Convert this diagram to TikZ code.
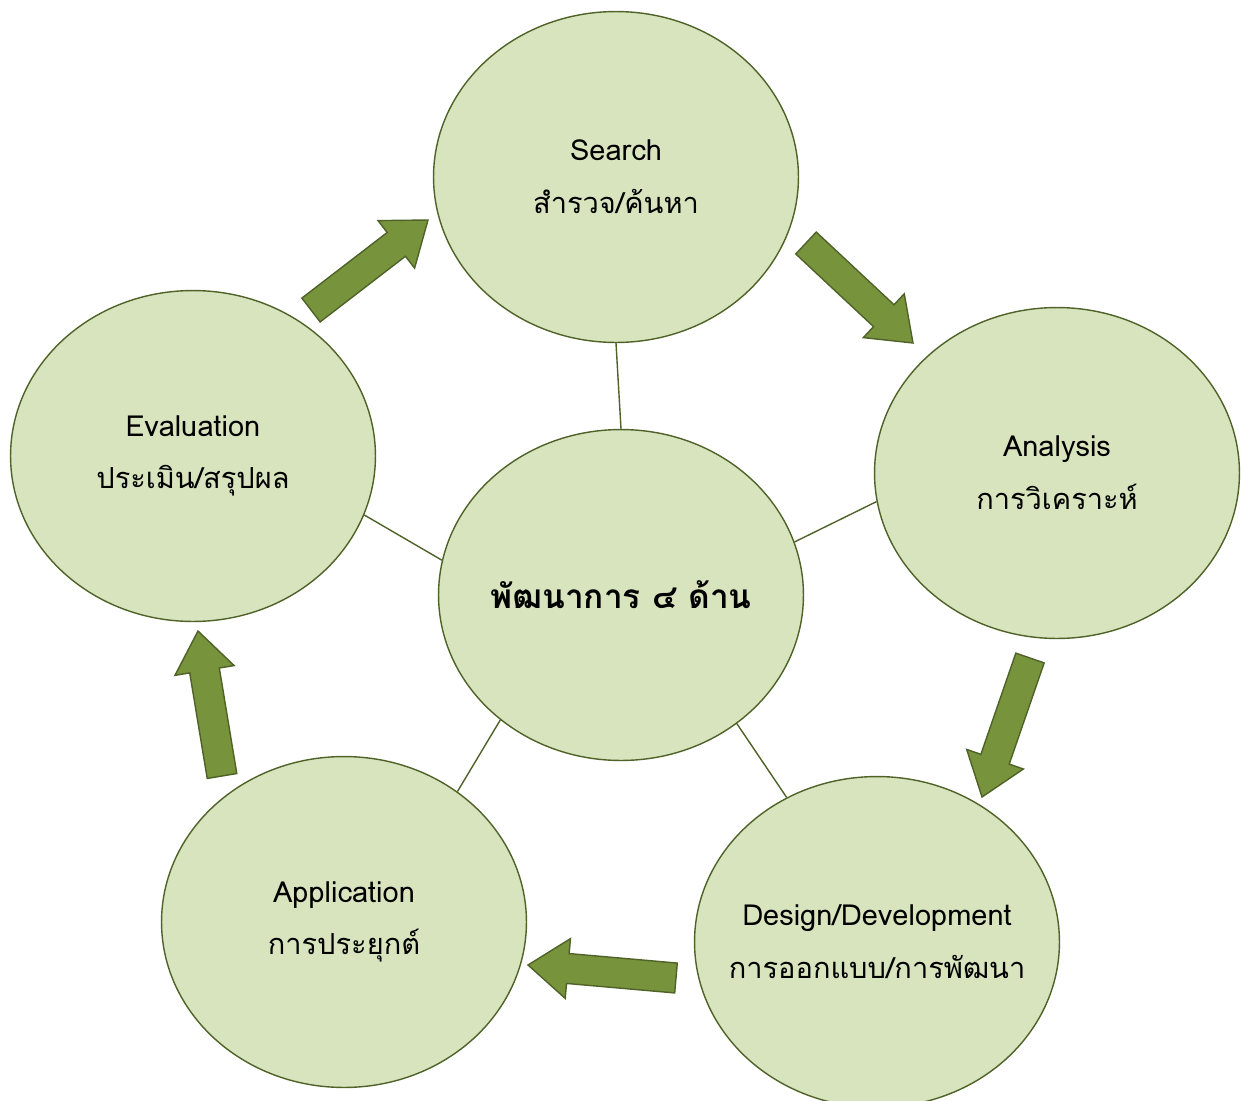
\documentclass[tikz,border=0pt]{standalone}
\usepackage{fontspec}
\newfontfamily\thaifont[Script=Thai]{Loma}
\usetikzlibrary{shapes.geometric,calc}
\definecolor{leaf}{HTML}{D7E4BD}
\definecolor{bark}{HTML}{4F6228}
\definecolor{moss}{HTML}{77933C}
\tikzstyle{phase} = [
  draw=bark,
  fill=leaf,
  ellipse,
  line width=0.8pt,
  minimum width=7.3cm,
  minimum height=6.62cm,
  inner sep=0pt,
]
\tikzstyle{caption} = [
  align=center,
  inner sep=0pt,
  font=\thaifont\fontsize{16.5}{30}\selectfont,
]
\tikzstyle{hubcaption} = [
  caption,
  font=\thaifont\bfseries\fontsize{19}{24}\selectfont,
]
\tikzstyle{spoke} = [
  draw=bark,
  line width=0.8pt,
]
\tikzstyle{bigarrow} = [
  draw=bark,
  fill=moss,
  line width=0.8pt,
  line join=miter,
]
% block arrow from tail #1 to tip #2
\newcommand{\blockarrow}[2]{%
  \path ($(#2)!0.8cm!(#1)$) coordinate (neck);
  \draw[bigarrow] ($(#1)!0.3cm!90:(#2)$) -- ($(neck)!0.3cm!-90:(#1)$)
    -- ($(neck)!0.6cm!-90:(#1)$) -- (#2) -- ($(neck)!0.6cm!90:(#1)$)
    -- ($(neck)!0.3cm!90:(#1)$) -- ($(#1)!0.3cm!-90:(#2)$) -- cycle;}

\begin{document}
\begin{tikzpicture}[
    x=0.02cm,
    y=-0.02cm,
  ]
  \useasboundingbox (0,0) rectangle (1242,1100);
  \clip (0,0) rectangle (1242,1100);
  \node[phase] (search) at (616,177) {};
  \node[phase] (analysis) at (1057,473) {};
  \node[phase] (design) at (877,942) {};
  \node[phase] (application) at (344,922) {};
  \node[phase] (evaluation) at (193,456) {};
  \node[phase] (hub) at (621,595) {};
  \node[caption] (searchtext) at (search) {Search\\สำรวจ/ค้นหา};
  \node[caption] (analysistext) at (analysis) {Analysis\\การวิเคราะห์};
  \node[caption] (designtext) at (design) {Design/Development\\การออกแบบ/การพัฒนา};
  \node[caption] (applicationtext) at (application) {Application\\การประยุกต์};
  \node[caption] (evaluationtext) at (evaluation) {Evaluation\\ประเมิน/สรุปผล};
  \node[hubcaption] (hubtext) at (hub) {พัฒนาการ ๔ ด้าน};
  % spokes
  \path[spoke] (hub.90) -- (search.270);
  \path[spoke] (hub.17) -- (analysis.189);
  \path[spoke] (hub.-48) -- (design.122);
  \path[spoke] (hub.-134) -- (application.49);
  \path[spoke] (hub.169) -- (evaluation.-19);
  % arrows round the cycle
  \coordinate (evalout) at (311,310);
  \coordinate (searchin) at (428,220);
  \coordinate (searchout) at (806,243);
  \coordinate (analysisin) at (913,343);
  \coordinate (analysisout) at (1030,658);
  \coordinate (designin) at (982,797);
  \coordinate (designout) at (676,978);
  \coordinate (applicationin) at (528,965);
  \coordinate (applicationout) at (222,776);
  \coordinate (evalin) at (198,631);
  \blockarrow{evalout}{searchin}
  \blockarrow{searchout}{analysisin}
  \blockarrow{analysisout}{designin}
  \blockarrow{designout}{applicationin}
  \blockarrow{applicationout}{evalin}
\end{tikzpicture}
\end{document}
